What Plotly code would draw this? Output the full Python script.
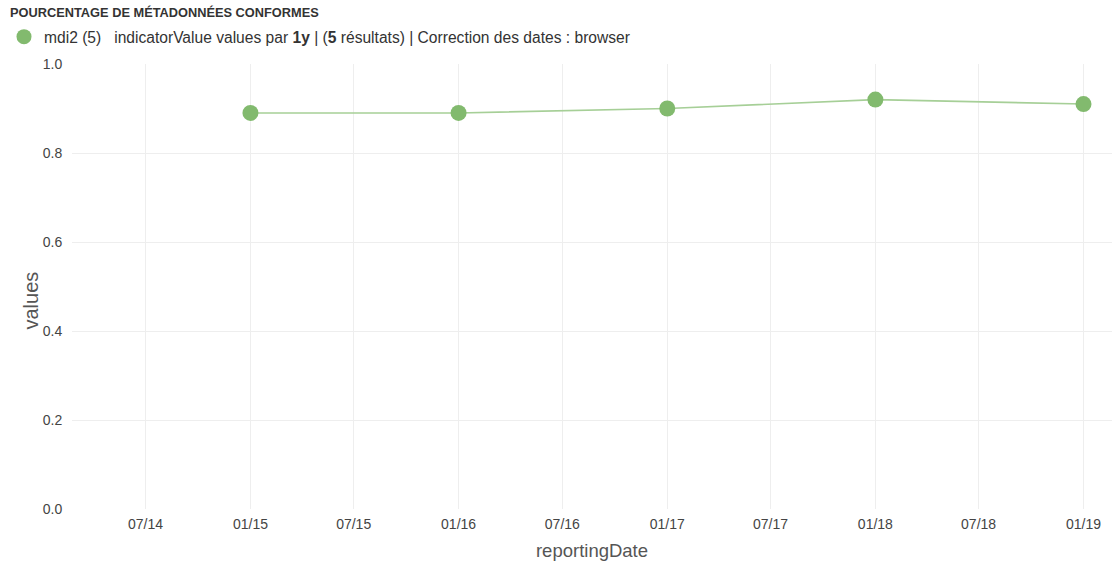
import plotly.graph_objects as go

dates = ["2015-01-01", "2016-01-01", "2017-01-01", "2018-01-01", "2019-01-01"]
values = [0.89, 0.89, 0.90, 0.92, 0.91]
series_name = "mdi2 (5)"
legend_text = ("mdi2 (5) &nbsp; indicatorValue values par <b>1y</b> | (<b>5</b> résultats) | "
               "Correction des dates : browser")
title_text = "POURCENTAGE DE MÉTADONNÉES CONFORMES"
x_title = "reportingDate"
y_title = "values"

marker_color = "#82ba6e"
line_color = "#a6cf97"

fig = go.Figure()
fig.add_trace(go.Scatter(
    x=dates, y=values, mode="lines+markers", name=series_name,
    line=dict(color=line_color, width=1.6),
    marker=dict(color=marker_color, size=16),
    showlegend=False,
))
fig.add_trace(go.Scatter(
    x=[None], y=[None], mode="markers", name=legend_text,
    marker=dict(color=marker_color, size=15),
    showlegend=True,
))

fig.update_layout(
    width=1115, height=566,
    margin=dict(l=72, r=3, t=64, b=57, autoexpand=False),
    paper_bgcolor="white", plot_bgcolor="white",
    font=dict(family="Liberation Sans, Arial, sans-serif", color="#444"),
    title=dict(text="<b>" + title_text + "</b>", xref="container", yref="container",
               x=10/1115, y=1 - 13/566, xanchor="left", yanchor="middle",
               font=dict(size=12.8, color="#333"), automargin=False),
    legend=dict(xref="container", yref="container", x=4/1115, y=1 - 37/566,
                xanchor="left", yanchor="middle", orientation="h",
                font=dict(size=15.6, color="#333"), itemwidth=30,
                bgcolor="rgba(0,0,0,0)"),
    xaxis=dict(
        type="date", range=["2014-02-22", "2019-02-20"],
        tick0="2014-07-01", dtick="M6", tickformat="%m/%y",
        showgrid=True, gridcolor="#eeeeee", zeroline=False, showline=False,
        tickfont=dict(size=14, color="#444"), automargin=False,
        title=dict(text=x_title, font=dict(size=18.5, color="#555"), standoff=13),
        ticks="outside", ticklen=2, tickcolor="rgba(0,0,0,0)",
    ),
    yaxis=dict(
        range=[0, 1.0], dtick=0.2, tickformat=".1f",
        showgrid=True, gridcolor="#eeeeee", zeroline=False, showline=False,
        tickfont=dict(size=14, color="#444"), automargin=False,
        ticks="outside", ticklen=6, tickcolor="rgba(0,0,0,0)",
    ),
    annotations=[dict(
        text=y_title, textangle=-90, xref="paper", yref="paper",
        x=0, y=0.5, xanchor="center", yanchor="middle",
        xshift=-42, yshift=-14, showarrow=False,
        font=dict(size=20, color="#555"),
    )],
)

fig.write_html("out.html", config={"displayModeBar": False},
               post_script="document.body.style.margin='0px';")
